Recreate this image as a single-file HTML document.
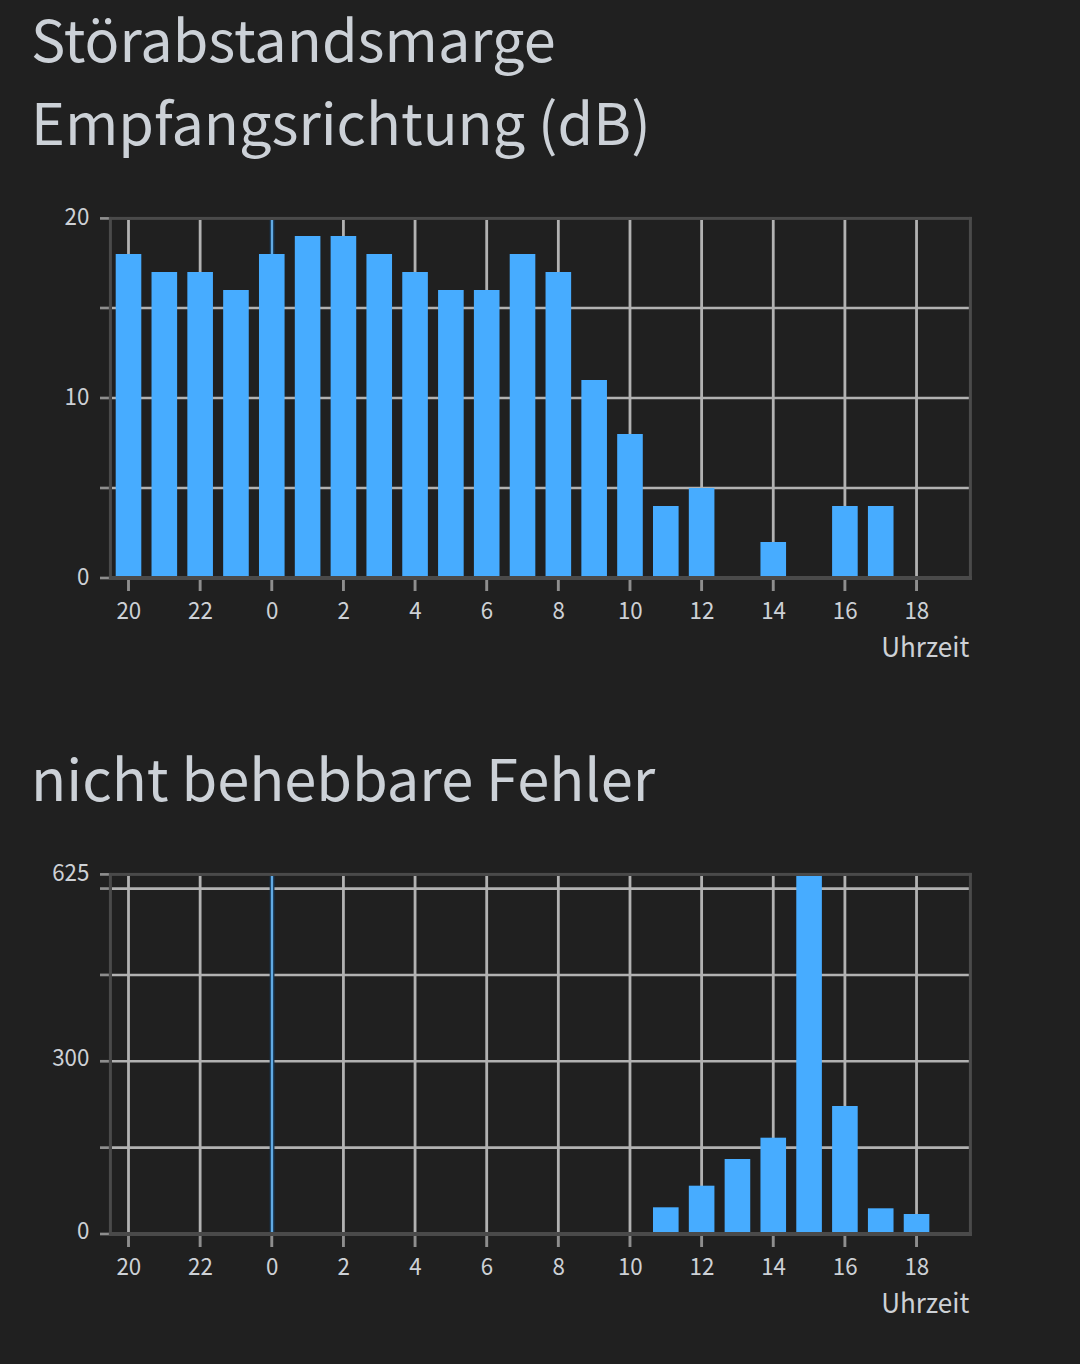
<!DOCTYPE html>
<html><head><meta charset="utf-8"><style>
html,body{margin:0;padding:0;background:#202020;}
body{width:1080px;height:1364px;overflow:hidden;position:relative;font-family:'Noto Sans CJK SC', 'Liberation Sans', sans-serif;}
h1{position:absolute;left:31px;margin:0;font-weight:400;font-size:57.6px;line-height:83px;color:#ccd1d7;white-space:nowrap;}
svg{position:absolute;left:0;top:0;}
.l{font-size:24px;fill:#cdd1d6;font-family:'Noto Sans CJK SC', 'Liberation Sans', sans-serif;}
.u{font-size:27.3px;fill:#cdd1d6;font-family:'Noto Sans CJK SC', 'Liberation Sans', sans-serif;}
</style></head><body>
<h1 style="top:-3.9px">Störabstandsmarge<br>Empfangsrichtung (dB)</h1>
<h1 style="top:735px;font-size:57.8px">nicht behebbare Fehler</h1>
<svg width="1080" height="1364" viewBox="0 0 1080 1364">
<line x1="111.90" x2="968.90" y1="488.00" y2="488.00" stroke="#b2b2b2" stroke-width="2.6"/>
<line x1="111.90" x2="968.90" y1="398.00" y2="398.00" stroke="#b2b2b2" stroke-width="2.6"/>
<line x1="111.90" x2="968.90" y1="308.00" y2="308.00" stroke="#b2b2b2" stroke-width="2.6"/>
<line x1="128.50" x2="128.50" y1="219.90" y2="576" stroke="#b2b2b2" stroke-width="2.8"/>
<line x1="200.14" x2="200.14" y1="219.90" y2="576" stroke="#b2b2b2" stroke-width="2.8"/>
<line x1="272.08" x2="272.08" y1="219.90" y2="576" stroke="#173a58" stroke-width="4.8"/>
<line x1="271.98" x2="271.98" y1="219.90" y2="576" stroke="#62aae3" stroke-width="2.2"/>
<line x1="343.42" x2="343.42" y1="219.90" y2="576" stroke="#b2b2b2" stroke-width="2.8"/>
<line x1="415.06" x2="415.06" y1="219.90" y2="576" stroke="#b2b2b2" stroke-width="2.8"/>
<line x1="486.70" x2="486.70" y1="219.90" y2="576" stroke="#b2b2b2" stroke-width="2.8"/>
<line x1="558.34" x2="558.34" y1="219.90" y2="576" stroke="#b2b2b2" stroke-width="2.8"/>
<line x1="629.98" x2="629.98" y1="219.90" y2="576" stroke="#b2b2b2" stroke-width="2.8"/>
<line x1="701.62" x2="701.62" y1="219.90" y2="576" stroke="#b2b2b2" stroke-width="2.8"/>
<line x1="773.26" x2="773.26" y1="219.90" y2="576" stroke="#b2b2b2" stroke-width="2.8"/>
<line x1="844.90" x2="844.90" y1="219.90" y2="576" stroke="#b2b2b2" stroke-width="2.8"/>
<line x1="916.54" x2="916.54" y1="219.90" y2="576" stroke="#b2b2b2" stroke-width="2.8"/>
<rect x="115.70" y="254.00" width="25.6" height="322.00" fill="#47acff"/>
<rect x="151.52" y="272.00" width="25.6" height="304.00" fill="#47acff"/>
<rect x="187.34" y="272.00" width="25.6" height="304.00" fill="#47acff"/>
<rect x="223.16" y="290.00" width="25.6" height="286.00" fill="#47acff"/>
<rect x="258.98" y="254.00" width="25.6" height="322.00" fill="#47acff"/>
<rect x="294.80" y="236.00" width="25.6" height="340.00" fill="#47acff"/>
<rect x="330.62" y="236.00" width="25.6" height="340.00" fill="#47acff"/>
<rect x="366.44" y="254.00" width="25.6" height="322.00" fill="#47acff"/>
<rect x="402.26" y="272.00" width="25.6" height="304.00" fill="#47acff"/>
<rect x="438.08" y="290.00" width="25.6" height="286.00" fill="#47acff"/>
<rect x="473.90" y="290.00" width="25.6" height="286.00" fill="#47acff"/>
<rect x="509.72" y="254.00" width="25.6" height="322.00" fill="#47acff"/>
<rect x="545.54" y="272.00" width="25.6" height="304.00" fill="#47acff"/>
<rect x="581.36" y="380.00" width="25.6" height="196.00" fill="#47acff"/>
<rect x="617.18" y="434.00" width="25.6" height="142.00" fill="#47acff"/>
<rect x="653.00" y="506.00" width="25.6" height="70.00" fill="#47acff"/>
<rect x="688.82" y="488.00" width="25.6" height="88.00" fill="#47acff"/>
<rect x="760.46" y="542.00" width="25.6" height="34.00" fill="#47acff"/>
<rect x="832.10" y="506.00" width="25.6" height="70.00" fill="#47acff"/>
<rect x="867.92" y="506.00" width="25.6" height="70.00" fill="#47acff"/>
<rect x="108.90" y="216.90" width="863.00" height="3" fill="#4a4a4a"/>
<rect x="108.90" y="216.90" width="3" height="363.10" fill="#4a4a4a"/>
<rect x="968.90" y="216.90" width="3" height="363.10" fill="#4a4a4a"/>
<rect x="108.90" y="576" width="863.00" height="4" fill="#4a4a4a"/>
<line x1="100" x2="108.90" y1="578.00" y2="578.00" stroke="#8e8e8e" stroke-width="2.7"/>
<line x1="100" x2="108.90" y1="488.00" y2="488.00" stroke="#8e8e8e" stroke-width="2.7"/>
<line x1="100" x2="108.90" y1="398.00" y2="398.00" stroke="#8e8e8e" stroke-width="2.7"/>
<line x1="100" x2="108.90" y1="308.00" y2="308.00" stroke="#8e8e8e" stroke-width="2.7"/>
<line x1="100" x2="108.90" y1="218.40" y2="218.40" stroke="#8e8e8e" stroke-width="2.7"/>
<line x1="128.50" x2="128.50" y1="580" y2="591" stroke="#8e8e8e" stroke-width="2.9"/>
<line x1="200.14" x2="200.14" y1="580" y2="591" stroke="#8e8e8e" stroke-width="2.9"/>
<line x1="271.78" x2="271.78" y1="580" y2="591" stroke="#8e8e8e" stroke-width="2.9"/>
<line x1="343.42" x2="343.42" y1="580" y2="591" stroke="#8e8e8e" stroke-width="2.9"/>
<line x1="415.06" x2="415.06" y1="580" y2="591" stroke="#8e8e8e" stroke-width="2.9"/>
<line x1="486.70" x2="486.70" y1="580" y2="591" stroke="#8e8e8e" stroke-width="2.9"/>
<line x1="558.34" x2="558.34" y1="580" y2="591" stroke="#8e8e8e" stroke-width="2.9"/>
<line x1="629.98" x2="629.98" y1="580" y2="591" stroke="#8e8e8e" stroke-width="2.9"/>
<line x1="701.62" x2="701.62" y1="580" y2="591" stroke="#8e8e8e" stroke-width="2.9"/>
<line x1="773.26" x2="773.26" y1="580" y2="591" stroke="#8e8e8e" stroke-width="2.9"/>
<line x1="844.90" x2="844.90" y1="580" y2="591" stroke="#8e8e8e" stroke-width="2.9"/>
<line x1="916.54" x2="916.54" y1="580" y2="591" stroke="#8e8e8e" stroke-width="2.9"/>
<text transform="translate(89.3 585.20) scale(0.93 1)" text-anchor="end" class="l">0</text>
<text transform="translate(89.3 405.20) scale(0.93 1)" text-anchor="end" class="l">10</text>
<text transform="translate(89.3 224.60) scale(0.93 1)" text-anchor="end" class="l">20</text>
<text transform="translate(128.80 618.60) scale(0.93 1)" text-anchor="middle" class="l">20</text>
<text transform="translate(200.44 618.60) scale(0.93 1)" text-anchor="middle" class="l">22</text>
<text transform="translate(272.08 618.60) scale(0.93 1)" text-anchor="middle" class="l">0</text>
<text transform="translate(343.72 618.60) scale(0.93 1)" text-anchor="middle" class="l">2</text>
<text transform="translate(415.36 618.60) scale(0.93 1)" text-anchor="middle" class="l">4</text>
<text transform="translate(487.00 618.60) scale(0.93 1)" text-anchor="middle" class="l">6</text>
<text transform="translate(558.64 618.60) scale(0.93 1)" text-anchor="middle" class="l">8</text>
<text transform="translate(630.28 618.60) scale(0.93 1)" text-anchor="middle" class="l">10</text>
<text transform="translate(701.92 618.60) scale(0.93 1)" text-anchor="middle" class="l">12</text>
<text transform="translate(773.56 618.60) scale(0.93 1)" text-anchor="middle" class="l">14</text>
<text transform="translate(845.20 618.60) scale(0.93 1)" text-anchor="middle" class="l">16</text>
<text transform="translate(916.84 618.60) scale(0.93 1)" text-anchor="middle" class="l">18</text>
<text transform="translate(969.3 656.60) scale(0.955 1)" text-anchor="end" class="u">Uhrzeit</text>
<line x1="111.90" x2="968.90" y1="1147.64" y2="1147.64" stroke="#b2b2b2" stroke-width="2.6"/>
<line x1="111.90" x2="968.90" y1="1061.29" y2="1061.29" stroke="#b2b2b2" stroke-width="2.6"/>
<line x1="111.90" x2="968.90" y1="974.93" y2="974.93" stroke="#b2b2b2" stroke-width="2.6"/>
<line x1="111.90" x2="968.90" y1="888.58" y2="888.58" stroke="#b2b2b2" stroke-width="2.6"/>
<line x1="128.50" x2="128.50" y1="875.90" y2="1232" stroke="#b2b2b2" stroke-width="2.8"/>
<line x1="200.14" x2="200.14" y1="875.90" y2="1232" stroke="#b2b2b2" stroke-width="2.8"/>
<line x1="272.08" x2="272.08" y1="875.90" y2="1232" stroke="#173a58" stroke-width="4.8"/>
<line x1="271.98" x2="271.98" y1="875.90" y2="1232" stroke="#62aae3" stroke-width="2.2"/>
<line x1="343.42" x2="343.42" y1="875.90" y2="1232" stroke="#b2b2b2" stroke-width="2.8"/>
<line x1="415.06" x2="415.06" y1="875.90" y2="1232" stroke="#b2b2b2" stroke-width="2.8"/>
<line x1="486.70" x2="486.70" y1="875.90" y2="1232" stroke="#b2b2b2" stroke-width="2.8"/>
<line x1="558.34" x2="558.34" y1="875.90" y2="1232" stroke="#b2b2b2" stroke-width="2.8"/>
<line x1="629.98" x2="629.98" y1="875.90" y2="1232" stroke="#b2b2b2" stroke-width="2.8"/>
<line x1="701.62" x2="701.62" y1="875.90" y2="1232" stroke="#b2b2b2" stroke-width="2.8"/>
<line x1="773.26" x2="773.26" y1="875.90" y2="1232" stroke="#b2b2b2" stroke-width="2.8"/>
<line x1="844.90" x2="844.90" y1="875.90" y2="1232" stroke="#b2b2b2" stroke-width="2.8"/>
<line x1="916.54" x2="916.54" y1="875.90" y2="1232" stroke="#b2b2b2" stroke-width="2.8"/>
<rect x="653.00" y="1207.30" width="25.6" height="24.70" fill="#47acff"/>
<rect x="688.82" y="1185.70" width="25.6" height="46.30" fill="#47acff"/>
<rect x="724.64" y="1159.00" width="25.6" height="73.00" fill="#47acff"/>
<rect x="760.46" y="1137.70" width="25.6" height="94.30" fill="#47acff"/>
<rect x="796.28" y="875.90" width="25.6" height="356.10" fill="#47acff"/>
<rect x="832.10" y="1106.00" width="25.6" height="126.00" fill="#47acff"/>
<rect x="867.92" y="1208.30" width="25.6" height="23.70" fill="#47acff"/>
<rect x="903.74" y="1214.00" width="25.6" height="18.00" fill="#47acff"/>
<rect x="108.90" y="872.90" width="863.00" height="3" fill="#4a4a4a"/>
<rect x="108.90" y="872.90" width="3" height="363.10" fill="#4a4a4a"/>
<rect x="968.90" y="872.90" width="3" height="363.10" fill="#4a4a4a"/>
<rect x="108.90" y="1232" width="863.00" height="4" fill="#4a4a4a"/>
<line x1="100" x2="108.90" y1="1234.00" y2="1234.00" stroke="#8e8e8e" stroke-width="2.7"/>
<line x1="100" x2="108.90" y1="1147.64" y2="1147.64" stroke="#8e8e8e" stroke-width="2.7"/>
<line x1="100" x2="108.90" y1="1061.29" y2="1061.29" stroke="#8e8e8e" stroke-width="2.7"/>
<line x1="100" x2="108.90" y1="974.93" y2="974.93" stroke="#8e8e8e" stroke-width="2.7"/>
<line x1="100" x2="108.90" y1="888.58" y2="888.58" stroke="#8e8e8e" stroke-width="2.7"/>
<line x1="100" x2="108.90" y1="874.40" y2="874.40" stroke="#8e8e8e" stroke-width="2.7"/>
<line x1="128.50" x2="128.50" y1="1236" y2="1247" stroke="#8e8e8e" stroke-width="2.9"/>
<line x1="200.14" x2="200.14" y1="1236" y2="1247" stroke="#8e8e8e" stroke-width="2.9"/>
<line x1="271.78" x2="271.78" y1="1236" y2="1247" stroke="#8e8e8e" stroke-width="2.9"/>
<line x1="343.42" x2="343.42" y1="1236" y2="1247" stroke="#8e8e8e" stroke-width="2.9"/>
<line x1="415.06" x2="415.06" y1="1236" y2="1247" stroke="#8e8e8e" stroke-width="2.9"/>
<line x1="486.70" x2="486.70" y1="1236" y2="1247" stroke="#8e8e8e" stroke-width="2.9"/>
<line x1="558.34" x2="558.34" y1="1236" y2="1247" stroke="#8e8e8e" stroke-width="2.9"/>
<line x1="629.98" x2="629.98" y1="1236" y2="1247" stroke="#8e8e8e" stroke-width="2.9"/>
<line x1="701.62" x2="701.62" y1="1236" y2="1247" stroke="#8e8e8e" stroke-width="2.9"/>
<line x1="773.26" x2="773.26" y1="1236" y2="1247" stroke="#8e8e8e" stroke-width="2.9"/>
<line x1="844.90" x2="844.90" y1="1236" y2="1247" stroke="#8e8e8e" stroke-width="2.9"/>
<line x1="916.54" x2="916.54" y1="1236" y2="1247" stroke="#8e8e8e" stroke-width="2.9"/>
<text transform="translate(89.3 1239.20) scale(0.93 1)" text-anchor="end" class="l">0</text>
<text transform="translate(89.3 1066.49) scale(0.93 1)" text-anchor="end" class="l">300</text>
<text transform="translate(89.3 880.60) scale(0.93 1)" text-anchor="end" class="l">625</text>
<text transform="translate(128.80 1274.60) scale(0.93 1)" text-anchor="middle" class="l">20</text>
<text transform="translate(200.44 1274.60) scale(0.93 1)" text-anchor="middle" class="l">22</text>
<text transform="translate(272.08 1274.60) scale(0.93 1)" text-anchor="middle" class="l">0</text>
<text transform="translate(343.72 1274.60) scale(0.93 1)" text-anchor="middle" class="l">2</text>
<text transform="translate(415.36 1274.60) scale(0.93 1)" text-anchor="middle" class="l">4</text>
<text transform="translate(487.00 1274.60) scale(0.93 1)" text-anchor="middle" class="l">6</text>
<text transform="translate(558.64 1274.60) scale(0.93 1)" text-anchor="middle" class="l">8</text>
<text transform="translate(630.28 1274.60) scale(0.93 1)" text-anchor="middle" class="l">10</text>
<text transform="translate(701.92 1274.60) scale(0.93 1)" text-anchor="middle" class="l">12</text>
<text transform="translate(773.56 1274.60) scale(0.93 1)" text-anchor="middle" class="l">14</text>
<text transform="translate(845.20 1274.60) scale(0.93 1)" text-anchor="middle" class="l">16</text>
<text transform="translate(916.84 1274.60) scale(0.93 1)" text-anchor="middle" class="l">18</text>
<text transform="translate(969.3 1312.60) scale(0.955 1)" text-anchor="end" class="u">Uhrzeit</text>
</svg>
</body></html>
